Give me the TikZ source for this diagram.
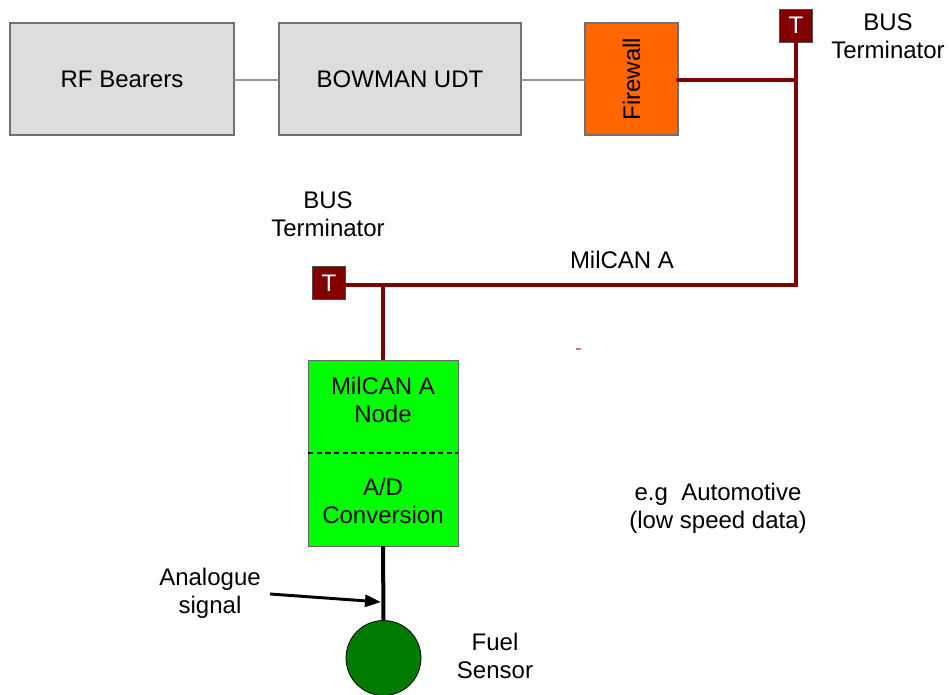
\documentclass[tikz,border=0pt]{standalone}
\usepackage{fontspec}
\setmainfont{Liberation Sans}
\usetikzlibrary{arrows.meta}
\definecolor{boxgray}{HTML}{DDDDDD}
\definecolor{edgegray}{HTML}{707070}
\definecolor{linkgray}{HTML}{999999}
\definecolor{busred}{HTML}{800000}
\definecolor{fworange}{HTML}{FF6600}
\definecolor{nodegreen}{HTML}{00FF00}
\definecolor{sensegreen}{HTML}{007A00}
\begin{document}
\begin{tikzpicture}[x=0.75pt,y=-0.75pt,
  every node/.style={font=\fontsize{18}{21}\selectfont, inner sep=0pt, outer sep=0pt},
  graybox/.style={draw=edgegray, line width=0.9pt, fill=boxgray, minimum width=224*0.75pt, minimum height=112*0.75pt},
  termbox/.style={draw=black!70, line width=0.6pt, fill=busred, text=white, minimum width=33*0.75pt, minimum height=33*0.75pt},
  busline/.style={draw=busred, line width=3pt},
  graylink/.style={draw=linkgray, line width=1.5pt},
  lbl/.style={align=center}
]
\useasboundingbox (0,0) rectangle (949,695);
% top boxes
\node[graybox] (rf) at (122,79) {RF Bearers};
\node[graybox, minimum width=242*0.75pt] (udt) at (400,79) {BOWMAN UDT};
\node[draw=edgegray, line width=0.9pt, fill=fworange, minimum width=93*0.75pt, minimum height=112*0.75pt] (fw) at (631.5,79) {};
\node[rotate=90] (fwtxt) at (fw.center) {Firewall};
\draw[graylink] (rf.east |- 0,80) coordinate (a1) -- (udt.west |- 0,80);
\draw[graylink] (udt.east |- 0,80) -- (fw.west |- 0,80);
% terminators
\node[termbox] (t1) at (796,25.5) {T};
\node[termbox] (t2) at (329,283) {T};
\coordinate (j1) at (796,80);
\coordinate (j2) at (796,285);
\coordinate (j3) at (383,285);
% green node
\node[draw=black!60, line width=0.6pt, fill=nodegreen, minimum width=150*0.75pt, minimum height=186*0.75pt] (mc) at (383,453) {};
\draw[black, line width=1.8pt, dash pattern=on 4pt off 2.5pt] (mc.west) -- (mc.east);
\node[lbl] (mct) at (383,400) {MilCAN A\\Node};
\node[lbl] (adt) at (383,501) {A/D\\Conversion};
% sensor
\node[circle, draw=black, line width=0.6pt, fill=sensegreen, minimum size=75*0.75pt] (fs) at (383.5,658) {};
% bus lines
\draw[busline, line cap=round] (fw.east |- j1) -- (j1);
\draw[busline, line cap=round] (t1.south) -- (j2) -- (t2.east |- j2);
\draw[busline] (j3) -- (mc.north -| j3);
% analogue line
\draw[black, line width=3pt] (mc.south) -- (fs.north);
\coordinate (as) at (270,594);
\coordinate (ae) at (381,602);
\draw[black, line width=2.2pt, -{Triangle[length=12pt,width=9pt]}] (as) -- (ae);
% labels
\node[lbl] (bt1) at (888,36) {BUS\\Terminator};
\node[lbl] (bt2) at (328,214) {BUS\\Terminator};
\node (bus) at (622,260) {MilCAN A};
\node[lbl] (an) at (210,593) {Analogue\\signal};
\node[lbl] (fst) at (495,656) {Fuel\\Sensor};
\node[lbl] (eg) at (718,508) {e.g\ \ Automotive\\(low speed data)};
% stray mark
\draw[draw=busred!50, line width=1.2pt] (576,349) coordinate (m1) -- (581,349) coordinate (m2);
\end{tikzpicture}
\end{document}
